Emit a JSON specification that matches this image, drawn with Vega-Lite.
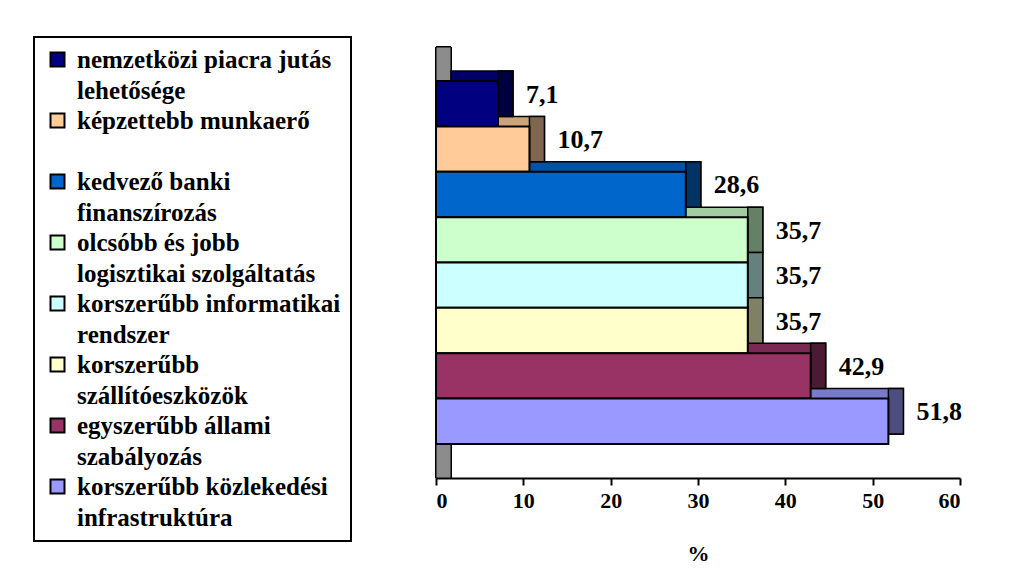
{
  "$schema": "https://vega.github.io/schema/vega-lite/v6.json",
  "autosize": {"type": "none"},
  "padding": {"left": 436, "top": 47, "right": 69, "bottom": 96},
  "width": 524,
  "height": 431,
  "background": "white",
  "data": {
    "values": [
      {"factor": "nemzetközi piacra jutás\nlehetősége", "value": 7.1},
      {"factor": "képzettebb munkaerő\n", "value": 10.7},
      {"factor": "kedvező banki\nfinanszírozás", "value": 28.6},
      {"factor": "olcsóbb és jobb\nlogisztikai szolgáltatás", "value": 35.7},
      {"factor": "korszerűbb informatikai\nrendszer", "value": 35.7},
      {"factor": "korszerűbb\nszállítóeszközök", "value": 35.7},
      {"factor": "egyszerűbb állami\nszabályozás", "value": 42.9},
      {"factor": "korszerűbb közlekedési\ninfrastruktúra", "value": 51.8}
    ]
  },
  "resolve": {"scale": {"fill": "independent"}},
  "layer": [
    {
      "mark": {"type": "rect", "fill": "#8c8c8c", "stroke": "black", "strokeWidth": 1, "x2Offset": 15},
      "encoding": {
        "x": {"datum": 0, "type": "quantitative", "scale": {"domain": [0, 60], "nice": false}, "axis": {"values": [0, 10, 20, 30, 40, 50, 60], "title": "%"}},
        "x2": {"datum": 0}
      }
    },
    {
      "mark": {"type": "bar", "stroke": "black", "strokeWidth": 1.5, "xOffset": 15, "x2Offset": 15, "yOffset": -10},
      "encoding": {
        "y": {"field": "factor", "type": "nominal", "sort": null, "axis": {"labels": false, "ticks": false, "title": null}},
        "x": {"field": "value", "type": "quantitative"},
        "x2": {"datum": 0},
        "fill": {"field": "factor", "type": "nominal", "sort": null, "legend": null,
          "scale": {"range": ["#000066", "#cca37a", "#0052a3", "#a3cca3", "#a3cccc", "#ccccA3", "#7a2952", "#7a7acc"]}}
      }
    },
    {
      "mark": {"type": "bar", "stroke": "black", "strokeWidth": 1.5, "x2Offset": 15, "yOffset": -10},
      "encoding": {
        "y": {"field": "factor", "type": "nominal", "sort": null},
        "x": {"field": "value", "type": "quantitative"},
        "x2": {"field": "value"},
        "fill": {"field": "factor", "type": "nominal", "sort": null, "legend": null,
          "scale": {"range": ["#000040", "#806650", "#003366", "#668066", "#668080", "#808066", "#4d1a33", "#4d4d80"]}}
      }
    },
    {
      "mark": {"type": "bar", "stroke": "black", "strokeWidth": 2},
      "encoding": {
        "y": {"field": "factor", "type": "nominal", "sort": null},
        "x": {"field": "value", "type": "quantitative"},
        "color": {"field": "factor", "type": "nominal", "sort": null,
          "scale": {"range": ["#000080", "#ffcc99", "#0066cc", "#ccffcc", "#ccffff", "#ffffcc", "#993366", "#9999ff"]},
          "legend": {
            "title": null,
            "orient": "none",
            "legendX": -402,
            "legendY": -10,
            "labelExpr": "split(datum.label, '\\n')",
            "encode": {"labels": {"update": {"lineHeight": {"value": 31}}}}
          }
        }
      }
    },
    {
      "mark": {"type": "text", "align": "left", "baseline": "middle", "dx": 28, "dy": -9, "font": "Liberation Serif", "fontWeight": "bold", "fontSize": 26, "color": "black"},
      "encoding": {
        "y": {"field": "factor", "type": "nominal", "sort": null},
        "x": {"field": "value", "type": "quantitative"},
        "text": {"field": "value", "type": "quantitative", "format": ".1f"}
      }
    }
  ],
  "config": {
    "locale": {"number": {"decimal": ",", "thousands": " ", "grouping": [3], "currency": ["", ""]}},
    "view": {"stroke": null},
    "scale": {"bandPaddingInner": 0, "bandPaddingOuter": 0.75},
    "axis": {
      "zindex": 1,
      "grid": false,
      "domainColor": "black",
      "domainWidth": 2,
      "tickColor": "black",
      "tickWidth": 2,
      "tickSize": 7,
      "labelFont": "Liberation Serif",
      "labelFontWeight": "bold",
      "labelFontSize": 22,
      "labelColor": "black",
      "labelPadding": 5,
      "titleFont": "Liberation Serif",
      "titleFontWeight": "bold",
      "titleFontSize": 22,
      "titleColor": "black",
      "titlePadding": 32
    },
    "legend": {
      "padding": 10,
      "strokeColor": "black",
      "strokeWidth": 2,
      "fillColor": "white",
      "symbolType": "square",
      "symbolSize": 196,
      "symbolOffset": 1,
      "symbolStrokeColor": "black",
      "symbolStrokeWidth": 2,
      "symbolOpacity": 1,
      "labelOffset": 7,
      "labelFont": "Liberation Serif",
      "labelFontWeight": "bold",
      "labelFontSize": 25,
      "labelColor": "black",
      "labelLimit": 400,
      "labelBaseline": "middle",
      "rowPadding": 4
    }
  }
}
